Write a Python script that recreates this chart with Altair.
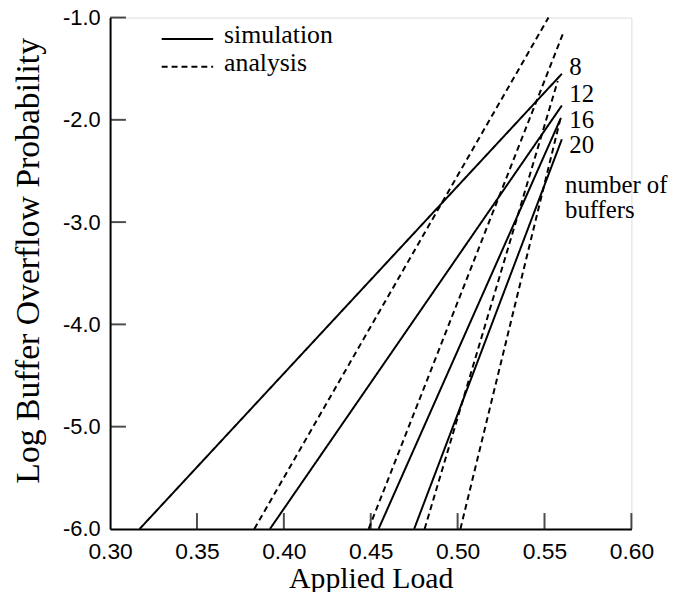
import altair as alt
import pandas as pd

# ---- data ----
buffers = ["8", "12", "16", "20"]
y_bottom = -6.0
sim_x_start = [0.317, 0.392, 0.4545, 0.475]
sim_x_end = [0.560, 0.560, 0.5595, 0.560]
sim_y_end = [-1.55, -1.86, -1.98, -2.19]
ana_x_start = [0.383, 0.4488, 0.481, 0.5016]
ana_x_end = [0.5523, 0.5608, 0.5576, 0.559]
ana_y_end = [-1.0, -1.15, -1.62, -2.0]

x_ticks = [0.30, 0.35, 0.40, 0.45, 0.50, 0.55, 0.60]
y_ticks = [-6.0, -5.0, -4.0, -3.0, -2.0, -1.0]

label_x = 0.5643
label_y = [-1.48, -1.745, -2.0, -2.25]
note_lines = ["number of", "buffers"]
note_y = [-2.64, -2.88]
note_x = 0.5618

legend_kinds = ["simulation", "analysis"]
legend_line_x = [0.3297, 0.3593]
legend_y = [-1.21, -1.48]
legend_text_x = 0.3656
legend_text_y = [-1.17, -1.45]

SERIF = "Liberation Serif"
SANS = "Liberation Sans"

rows = []
for i, b in enumerate(buffers):
    rows.append({"series": "sim" + b, "kind": "simulation", "x": sim_x_start[i], "y": y_bottom})
    rows.append({"series": "sim" + b, "kind": "simulation", "x": sim_x_end[i], "y": sim_y_end[i]})
    rows.append({"series": "ana" + b, "kind": "analysis", "x": ana_x_start[i], "y": y_bottom})
    rows.append({"series": "ana" + b, "kind": "analysis", "x": ana_x_end[i], "y": ana_y_end[i]})
for k, kind in enumerate(legend_kinds):
    for xv in legend_line_x:
        rows.append({"series": "leg" + kind, "kind": kind, "x": xv, "y": legend_y[k]})
lines_df = pd.DataFrame(rows)

xscale = alt.Scale(domain=[0.30, 0.60], nice=False, zero=False)
yscale = alt.Scale(domain=[-6.0, -1.0], nice=False, zero=False)

xaxis = alt.Axis(values=x_ticks, format=".2f", title="Applied Load", ticks=False,
                 grid=False, labelFont=SANS, labelFontSize=23, labelColor="black",
                 labelPadding=12, titleFont=SERIF, titleFontSize=30, titleFontWeight="normal",
                 titleColor="black", titlePadding=0, domainColor="black", domainWidth=2,
                 labelFlush=False)
yaxis = alt.Axis(values=y_ticks, labelExpr="'-' + format(abs(datum.value), '.1f')",
                 title="Log Buffer Overflow Probability", ticks=False, grid=False,
                 labelFont=SANS, labelFontSize=22, labelColor="black", labelPadding=10,
                 titleFont=SERIF, titleFontSize=34, titleFontWeight="normal",
                 titleColor="black", titlePadding=17, titleY=245,
                 domainColor="black", domainWidth=2, labelFlush=False)

lines = alt.Chart(lines_df).mark_line(color="black", strokeWidth=2).encode(
    x=alt.X("x:Q", scale=xscale, axis=xaxis),
    y=alt.Y("y:Q", scale=yscale, axis=yaxis),
    detail="series:N",
    strokeDash=alt.StrokeDash("kind:N", scale=alt.Scale(domain=legend_kinds,
                              range=[[1, 0], [6, 4]]), legend=None),
)

xt_df = pd.DataFrame({"x": x_ticks[1:], "y": [y_bottom] * (len(x_ticks) - 1)})
xticks = alt.Chart(xt_df).mark_tick(orient="vertical", size=16, thickness=2,
                                    color="black", yOffset=-8).encode(
    x=alt.X("x:Q", scale=xscale), y=alt.Y("y:Q", scale=yscale))

yt_df = pd.DataFrame({"x": [0.30] * (len(y_ticks) - 1), "y": y_ticks[1:]})
yticks = alt.Chart(yt_df).mark_tick(orient="horizontal", size=16, thickness=2,
                                    color="black", xOffset=8).encode(
    x=alt.X("x:Q", scale=xscale), y=alt.Y("y:Q", scale=yscale))

lab_df = pd.DataFrame({"t": buffers + note_lines,
                       "x": [label_x] * 4 + [note_x] * 2,
                       "y": label_y + note_y})
labels = alt.Chart(lab_df).mark_text(font=SERIF, fontSize=25, align="left",
                                     baseline="middle", color="black").encode(
    x=alt.X("x:Q", scale=xscale), y=alt.Y("y:Q", scale=yscale), text="t:N")

leg_df = pd.DataFrame({"t": legend_kinds, "x": [legend_text_x] * 2, "y": legend_text_y})
legtext = alt.Chart(leg_df).mark_text(font=SERIF, fontSize=26, align="left",
                                      baseline="middle", color="black").encode(
    x=alt.X("x:Q", scale=xscale), y=alt.Y("y:Q", scale=yscale), text="t:N")

chart = alt.layer(lines, xticks, yticks, labels, legtext).properties(
    width=526, height=516,
    autosize=alt.AutoSizeParams(type="none"),
    padding={"left": 103, "top": 7, "right": 43, "bottom": 61},
).configure_view(stroke=None).configure(background="white")

chart.save("out.html", embed_options={"renderer": "svg", "actions": False})
